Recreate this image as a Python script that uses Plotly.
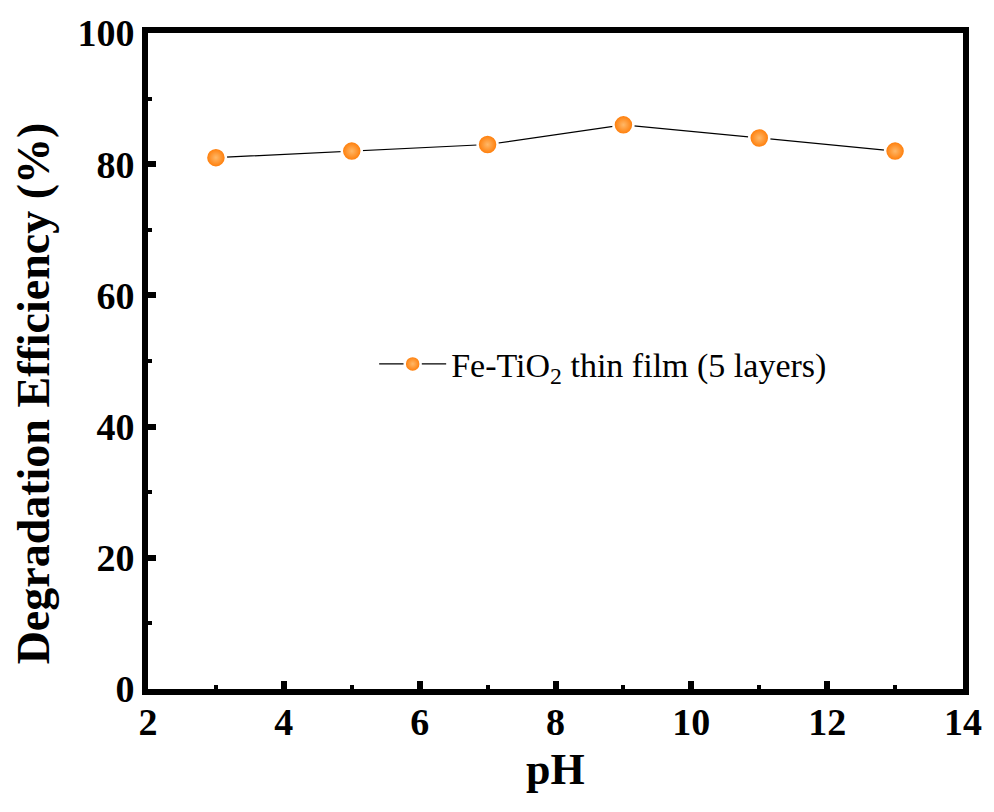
import plotly.graph_objects as go

ph = [3, 5, 7, 9, 11, 13]
efficiency = [81, 82, 83, 86, 84, 82]
series_name = "Fe-TiO<sub>2</sub> thin film (5 layers)"
x_title = "<b>pH</b>"
y_title = "<b>Degradation Efficiency (%)</b>"

fig = go.Figure()
fig.add_trace(go.Scatter(
    x=ph, y=efficiency, mode="lines+markers", name=series_name,
    line=dict(color="black", width=1.2),
    marker=dict(size=20, color="#ff7800",
                gradient=dict(type="radial", color="#ffb868"),
                line=dict(color="white", width=2.5)),
))

font_family = "Liberation Serif, Times New Roman, serif"
axis_common = dict(
    showline=True, linewidth=6, linecolor="black", mirror=True,
    ticks="inside", tickwidth=6, ticklen=8, tickcolor="black",
    showgrid=False, zeroline=False,
    tickfont=dict(family=font_family, size=38, color="black", weight="bold"),
)

fig.update_xaxes(
    range=[2, 14], dtick=2, tick0=2, ticklabelstandoff=-6,
    minor=dict(ticks="inside", ticklen=4, tickwidth=4, dtick=1, tickcolor="black"),
    **axis_common,
)
fig.update_yaxes(
    range=[0, 100], dtick=20, tick0=0,
    minor=dict(ticks="inside", ticklen=4, tickwidth=4, dtick=10, tickcolor="black"),
    **axis_common,
)

fig.add_annotation(text=x_title, xref="paper", yref="paper", x=0.5, y=-0.122,
                   xanchor="center", yanchor="middle", showarrow=False,
                   font=dict(family=font_family, size=44, color="black"))
fig.add_annotation(text=y_title, xref="paper", yref="paper", x=-0.1404, y=0.45,
                   xanchor="center", yanchor="middle", showarrow=False, textangle=-90,
                   font=dict(family=font_family, size=46, color="black"))

fig.update_layout(
    width=994, height=812,
    margin=dict(l=148, r=27, t=29, b=123),
    plot_bgcolor="white", paper_bgcolor="white",
    font=dict(family=font_family, color="black"),
    showlegend=True,
    legend=dict(x=0.2775, y=0.495, xanchor="left", yanchor="middle",
                bgcolor="rgba(0,0,0,0)",
                font=dict(family=font_family, size=34, color="black"),
                itemwidth=67),
)

fig.write_html("out.html")
